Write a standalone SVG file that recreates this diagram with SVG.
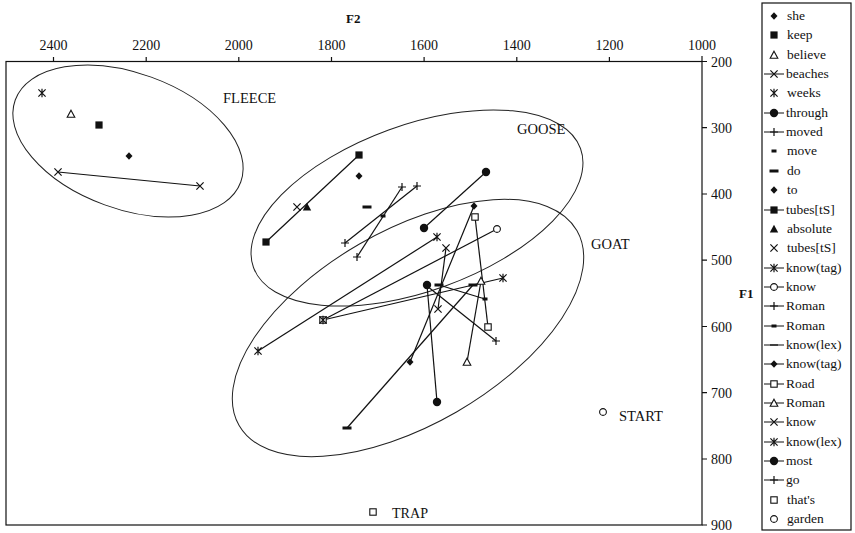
<svg xmlns="http://www.w3.org/2000/svg" xmlns:xlink="http://www.w3.org/1999/xlink" width="855" height="533" viewBox="0 0 855 533">
<style>
text{font-family:"Liberation Serif","Times New Roman",serif;fill:#111}
.tk{font-size:14px}
.lg{font-size:13.5px}
.lab{font-size:14.5px}
.ax{font-size:13px;font-weight:bold}
.ln{stroke:#111;stroke-width:1.2;fill:none}
.el{stroke:#222;stroke-width:1;fill:none}
.fr{stroke:#111;stroke-width:1.2;fill:none}
.mk{stroke:#111;stroke-width:1.2;fill:none}
.fl{fill:#111;stroke:none}
.op{fill:#fff;stroke:#111;stroke-width:1.1}
</style>
<defs>
<polygon id="dia" class="fl" points="0,-3.8 3.5,0 0,3.8 -3.5,0"/>
<rect id="sq" class="fl" x="-3.6" y="-3.6" width="7.2" height="7.2"/>
<rect id="osq" class="op" x="-3.2" y="-3.2" width="6.4" height="6.4"/>
<polygon id="otri" class="op" points="0,-3.8 3.8,3.2 -3.8,3.2"/>
<polygon id="ftri" class="fl" points="0,-4.2 4.2,3.4 -4.2,3.4"/>
<path id="x" class="mk" d="M-3.6,-3.6L3.6,3.6M-3.6,3.6L3.6,-3.6"/>
<path id="star" class="mk" d="M-3.6,-3.6L3.6,3.6M-3.6,3.6L3.6,-3.6M0,-4.2V4.2"/>
<circle id="dot" class="fl" r="4.2"/>
<circle id="oc" class="op" r="3.4"/>
<path id="plus" class="mk" d="M-4,0H4M0,-4V4"/>
<rect id="sd" class="fl" x="-2.5" y="-1.5" width="5" height="3"/>
<rect id="dash" class="fl" x="-4.5" y="-1.5" width="9" height="3"/>
<path id="thin" class="mk" d="M-4,0H4"/>
</defs>

<g id="axes">
<rect class="fr" x="6" y="61.5" width="696" height="463.5"/>
<path class="fr" d="M53.5,61.5V57M146.2,61.5V57M238.8,61.5V57M331.5,61.5V57M424.1,61.5V57M516.8,61.5V57M609.4,61.5V57M702,61.5V56"/>
<path class="fr" d="M702,61.5H707M702,127.7H707M702,194H707M702,260.2H707M702,326.5H707M702,392.7H707M702,459H707M702,525H707"/>
<g class="tk" text-anchor="middle">
<text x="53.5" y="50">2400</text>
<text x="146.2" y="50">2200</text>
<text x="238.8" y="50">2000</text>
<text x="331.5" y="50">1800</text>
<text x="424.1" y="50">1600</text>
<text x="516.8" y="50">1400</text>
<text x="609.4" y="50">1200</text>
<text x="702" y="50">1000</text>
</g>
<g class="tk">
<text x="711" y="66.5">200</text>
<text x="711" y="132.7">300</text>
<text x="711" y="199">400</text>
<text x="711" y="265.2">500</text>
<text x="711" y="331.5">600</text>
<text x="711" y="397.7">700</text>
<text x="711" y="464">800</text>
<text x="711" y="530">900</text>
</g>
<text class="ax" x="346" y="23">F2</text>
<text class="ax" x="739" y="298">F1</text>
</g>

<g id="ellipses">
<ellipse id="fleece" class="el" cx="128" cy="141" rx="120" ry="68" transform="rotate(20 128 141)"/>
<ellipse id="goose" class="el" cx="417" cy="208" rx="174" ry="83" transform="rotate(-20 417 208)"/>
<ellipse id="goat" class="el" cx="408" cy="328" rx="195" ry="97" transform="rotate(-30 408 328)"/>
</g>

<g id="labels">
<text class="lab" x="223" y="103">FLEECE</text>
<text class="lab" x="517" y="134">GOOSE</text>
<text class="lab" x="591" y="249">GOAT</text>
<text class="lab" x="619" y="421" textLength="44" lengthAdjust="spacingAndGlyphs">START</text>
<text class="lab" x="392" y="518" textLength="36" lengthAdjust="spacingAndGlyphs">TRAP</text>
</g>

<g id="connectors">
<path class="ln" d="M58,172L200,186"/>
<path class="ln" d="M359,155L266,242"/>
<path class="ln" d="M402,187L357,257"/>
<path class="ln" d="M417,186L345,243"/>
<path class="ln" d="M486,172L424,228"/>
<path class="ln" d="M258,351L437,237"/>
<path class="ln" d="M323,320L497,229"/>
<path class="ln" d="M323,320L503,278"/>
<path class="ln" d="M347,428L473,285"/>
<path class="ln" d="M410,362L474,206"/>
<path class="ln" d="M475,217L488,327"/>
<path class="ln" d="M481,281L467,362"/>
<path class="ln" d="M446,248L438,309"/>
<path class="ln" d="M427,285L437,402"/>
<path class="ln" d="M427,286L496,341"/>
<path class="ln" d="M439,285L485,299"/>
</g>

<g id="points">
<use href="#star" x="42" y="93"/>
<use href="#otri" x="71" y="114"/>
<use href="#sq" x="99" y="125"/>
<use href="#dia" x="129" y="156"/>
<use href="#x" x="58" y="172"/>
<use href="#x" x="200" y="186"/>

<use href="#sq" x="359" y="155"/>
<use href="#sq" x="266" y="242"/>
<use href="#dia" x="359" y="176"/>
<use href="#ftri" x="307" y="207"/>
<use href="#x" x="297" y="207"/>
<use href="#dash" x="367" y="207"/>
<use href="#plus" x="402" y="187"/>
<use href="#plus" x="357" y="257"/>
<use href="#plus" x="417" y="186"/>
<use href="#plus" x="345" y="243"/>
<use href="#sd" x="383" y="216"/>
<use href="#dot" x="486" y="172"/>
<use href="#dot" x="424" y="228"/>

<use href="#star" x="258" y="351"/>
<use href="#star" x="437" y="237"/>
<use href="#osq" x="323" y="320"/>
<use href="#star" x="323" y="320"/>
<use href="#oc" x="497" y="229"/>
<use href="#star" x="503" y="278"/>
<use href="#dash" x="347" y="428"/>
<use href="#dash" x="473" y="285"/>
<use href="#dia" x="410" y="362"/>
<use href="#dia" x="474" y="206"/>
<use href="#osq" x="475" y="217"/>
<use href="#osq" x="488" y="327"/>
<use href="#otri" x="481" y="281"/>
<use href="#otri" x="467" y="362"/>
<use href="#x" x="446" y="248"/>
<use href="#x" x="438" y="309"/>
<use href="#dot" x="427" y="285"/>
<use href="#dot" x="437" y="402"/>
<use href="#plus" x="496" y="341"/>
<use href="#dash" x="439" y="285"/>
<use href="#sd" x="485" y="299"/>

<use href="#oc" x="603" y="412"/>
<use href="#osq" x="373" y="512"/>
</g>

<g id="legend">
<rect class="fr" x="762" y="3" width="89" height="527"/>
<path class="ln" d="M764,74H784M764,113H784M764,132H784M764,210H784M764,268H784M764,287H784M764,306H784M764,326H784M764,345H784M764,364H784M764,384H784M764,403H784M764,422H784M764,442H784M764,461H784M764,480H784"/>
<use href="#dia" x="774" y="16"/>
<use href="#sq" x="774" y="35"/>
<use href="#otri" x="774" y="55"/>
<use href="#x" x="774" y="74"/>
<use href="#star" x="774" y="93"/>
<use href="#dot" x="774" y="113"/>
<use href="#plus" x="774" y="132"/>
<use href="#sd" x="774" y="151"/>
<use href="#dash" x="774" y="171"/>
<use href="#dia" x="774" y="190"/>
<use href="#sq" x="774" y="210"/>
<use href="#ftri" x="774" y="229"/>
<use href="#x" x="774" y="248"/>
<use href="#star" x="774" y="268"/>
<use href="#oc" x="774" y="287"/>
<use href="#plus" x="774" y="306"/>
<use href="#sd" x="774" y="326"/>
<use href="#thin" x="774" y="345"/>
<use href="#dia" x="774" y="364"/>
<use href="#osq" x="774" y="384"/>
<use href="#otri" x="774" y="403"/>
<use href="#x" x="774" y="422"/>
<use href="#star" x="774" y="442"/>
<use href="#dot" x="774" y="461"/>
<use href="#plus" x="774" y="480"/>
<use href="#osq" x="774" y="500"/>
<use href="#oc" x="774" y="519"/>
<g class="lg">
<text x="787" y="20">she</text>
<text x="787" y="39">keep</text>
<text x="787" y="59">believe</text>
<text x="786" y="78">beaches</text>
<text x="787" y="97">weeks</text>
<text x="786" y="117">through</text>
<text x="786" y="136">moved</text>
<text x="787" y="155">move</text>
<text x="787" y="175">do</text>
<text x="787" y="194">to</text>
<text x="786" y="214">tubes[tS]</text>
<text x="787" y="233">absolute</text>
<text x="787" y="252">tubes[tS]</text>
<text x="786" y="272">know(tag)</text>
<text x="786" y="291">know</text>
<text x="786" y="310">Roman</text>
<text x="786" y="330">Roman</text>
<text x="786" y="349">know(lex)</text>
<text x="786" y="368">know(tag)</text>
<text x="786" y="388">Road</text>
<text x="786" y="407">Roman</text>
<text x="786" y="426">know</text>
<text x="786" y="446">know(lex)</text>
<text x="786" y="465">most</text>
<text x="786" y="484">go</text>
<text x="787" y="504">that's</text>
<text x="787" y="523">garden</text>
</g>
</g>
</svg>
